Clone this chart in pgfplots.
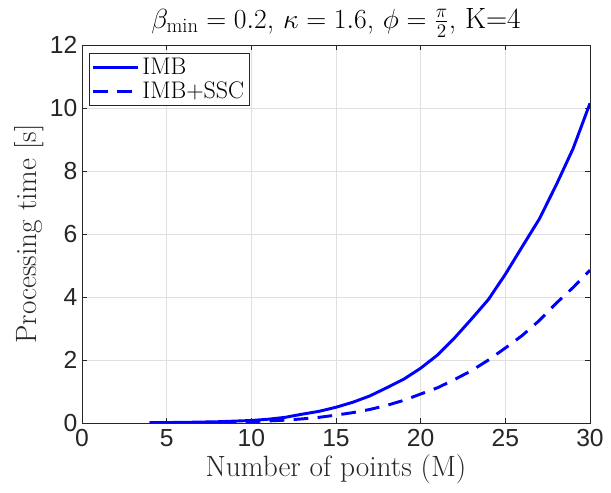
\documentclass[border=0pt]{standalone}
\usepackage{fontspec}
\setsansfont{Liberation Sans}
\usepackage{pgfplots}
\pgfplotsset{compat=1.18}
\definecolor{axgray}{gray}{0.15}
\definecolor{gridgray}{gray}{0.88}
\begin{document}
\begin{tikzpicture}
\useasboundingbox (-61.5pt,-52.5pt) rectangle (396.75pt,317.25pt);
\begin{axis}[
  scale only axis,
  width=381pt, height=283.5pt,
  xmin=0, xmax=30, ymin=0, ymax=12,
  xtick={0,5,...,30}, ytick={0,2,...,12},
  grid=major,
  major grid style={gridgray, line width=0.6pt},
  axis line style={axgray, line width=0.6pt},
  tick style={axgray, line width=0.6pt},
  major tick length=4pt,
  tick align=inside,
  xtick pos=both, ytick pos=both,
  /pgf/number format/assume math mode=true,
  ticklabel style={font=\sffamily\fontsize{18.5}{21}\selectfont, text=axgray},
  xticklabel style={yshift=-1pt},
  xlabel={Number of points (M)},
  ylabel={Processing time [s]},
  label style={font=\fontsize{22}{25}\selectfont, text=axgray},
  xlabel style={yshift=1pt},
  ylabel style={yshift=-2pt},
  title={$\beta_{\min}=0.2$, $\kappa=1.6$, $\phi=\frac{\pi}{2}$, K=4},
  title style={font=\fontsize{22}{25}\selectfont, yshift=-4pt},
  legend style={at={(0.014,0.978)}, anchor=north west, font=\fontsize{18}{21}\selectfont,
    draw=axgray, line width=0.6pt, inner sep=1.5pt, row sep=0pt, legend cell align=left},
  legend image code/.code={\draw[#1, line width=2.2pt] (0pt,0pt) -- (34pt,0pt);},
]
\addplot[blue, line width=2.2pt] coordinates {
(4,0.01) (5,0.015) (6,0.02) (7,0.03) (8,0.04) (9,0.06) (10,0.08) (11,0.12)
(12,0.18) (13,0.28) (14,0.37) (15,0.5) (16,0.66) (17,0.86) (18,1.12) (19,1.39)
(20,1.74) (21,2.16) (22,2.7) (23,3.3) (24,3.92) (25,4.72) (26,5.6) (27,6.47)
(28,7.55) (29,8.71) (30,10.15)};
\addlegendentry{IMB}
\addplot[blue, line width=2.2pt, dash pattern=on 11pt off 7pt] coordinates {
(4,0.005) (5,0.007) (6,0.01) (7,0.015) (8,0.02) (9,0.03) (10,0.045) (11,0.065)
(12,0.09) (13,0.13) (14,0.18) (15,0.25) (16,0.33) (17,0.43) (18,0.56) (19,0.72)
(20,0.92) (21,1.12) (22,1.38) (23,1.66) (24,2.0) (25,2.38) (26,2.78) (27,3.25)
(28,3.8) (29,4.3) (30,4.85)};
\addlegendentry{IMB+SSC}
\end{axis}
\end{tikzpicture}
\end{document}
